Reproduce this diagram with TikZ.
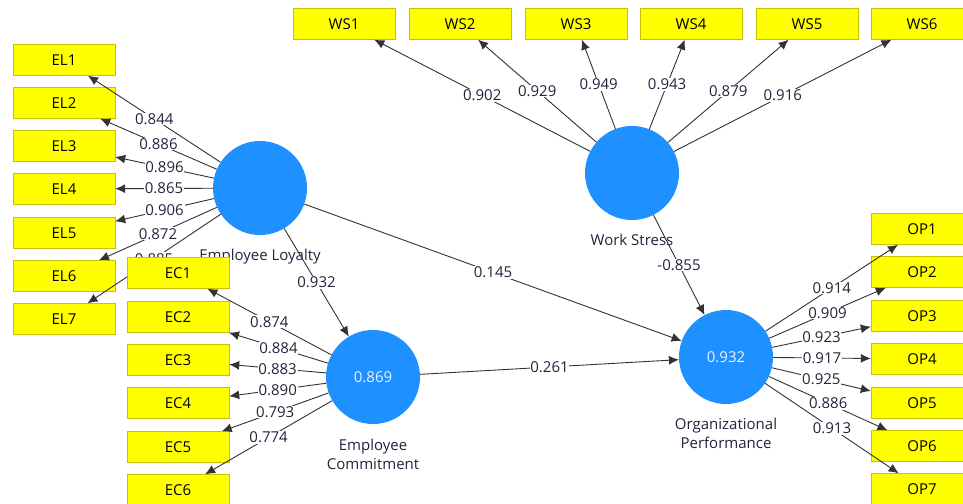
\documentclass[tikz,border=0pt]{standalone}
\usepackage{fontspec}
\setmainfont{Open Sans}
\usetikzlibrary{arrows.meta}
\usepackage{xcolor}
\definecolor{lvblue}{RGB}{30,144,255}
\definecolor{mvyellow}{RGB}{255,255,0}
\definecolor{mvedge}{RGB}{196,196,0}
\definecolor{linkgray}{RGB}{50,50,50}
\definecolor{valtext}{RGB}{35,35,60}

\begin{document}
\begin{tikzpicture}[x=1pt,y=-1pt,
  item/.style={rectangle,draw=mvedge,fill=mvyellow,minimum width=102pt,minimum height=31pt,inner sep=0pt,font=\fontsize{15}{17}\selectfont},
  latent/.style={circle,fill=lvblue,minimum size=94pt,inner sep=0pt,text=blue!6,font=\fontsize{15}{17}\selectfont},
  lvname/.style={align=center,inner sep=0pt,text=valtext,font=\fontsize{15}{18.5}\selectfont},
  link/.style={draw=linkgray,line width=0.9pt,-{Latex[length=10pt,width=9pt]}},
  coef/.style={fill=white,inner sep=0.8pt,text=valtext,font=\fontsize{15}{17}\selectfont}]
\useasboundingbox (0,0) rectangle (963,503);
\clip (0,0) rectangle (963,503);

% employee loyalty
\node [item] (el1) at (64,60) {EL1};
\node [item] (el2) at (64,103) {EL2};
\node [item] (el3) at (64,146) {EL3};
\node [item] (el4) at (64,189) {EL4};
\node [item] (el5) at (64,233) {EL5};
\node [item] (el6) at (64,276) {EL6};
\node [item] (el7) at (64,319) {EL7};
\node [latent] (el) at (260,188) {};
\node [lvname,below=14pt,at=(el.south)] (elname) {Employee Loyalty};

\draw [link] (el) -- node[coef] {0.844} (el1);
\draw [link] (el) -- node[coef] {0.886} (el2);
\draw [link] (el) -- node[coef] {0.896} (el3);
\draw [link] (el) -- node[coef] {0.865} (el4);
\draw [link] (el) -- node[coef] {0.906} (el5);
\draw [link] (el) -- node[coef] {0.872} (el6);
\draw [link] (el) -- node[coef] {0.885} (el7);

% employee commitment
\node [item] (ec1) at (178,273) {EC1};
\node [item] (ec2) at (178,317) {EC2};
\node [item] (ec3) at (178,360) {EC3};
\node [item] (ec4) at (178,403) {EC4};
\node [item] (ec5) at (178,447) {EC5};
\node [item] (ec6) at (178,490) {EC6};
\node [latent] (ec) at (373,377) {0.869};
\node [lvname,below=15pt,at=(ec.south)] (ecname) {Employee\\Commitment};

\draw [link] (ec) -- node[coef] {0.874} (ec1);
\draw [link] (ec) -- node[coef] {0.884} (ec2);
\draw [link] (ec) -- node[coef] {0.883} (ec3);
\draw [link] (ec) -- node[coef] {0.890} (ec4);
\draw [link] (ec) -- node[coef] {0.793} (ec5);
\draw [link] (ec) -- node[coef] {0.774} (ec6);

% work stress
\node [item] (ws1) at (344,24) {WS1};
\node [item] (ws2) at (460,24) {WS2};
\node [item] (ws3) at (576,24) {WS3};
\node [item] (ws4) at (691,24) {WS4};
\node [item] (ws5) at (807,24) {WS5};
\node [item] (ws6) at (922,24) {WS6};
\node [latent] (ws) at (632,173) {};
\node [lvname,below=14pt,at=(ws.south)] (wsname) {Work Stress};

\draw [link] (ws) -- node[coef] {0.902} (ws1);
\draw [link] (ws) -- node[coef] {0.929} (ws2);
\draw [link] (ws) -- node[coef] {0.949} (ws3);
\draw [link] (ws) -- node[coef] {0.943} (ws4);
\draw [link] (ws) -- node[coef] {0.879} (ws5);
\draw [link] (ws) -- node[coef] {0.916} (ws6);

% organizational performance
\node [item] (op1) at (922,229) {OP1};
\node [item] (op2) at (922,272) {OP2};
\node [item] (op3) at (922,316) {OP3};
\node [item] (op4) at (922,359) {OP4};
\node [item] (op5) at (922,403) {OP5};
\node [item] (op6) at (922,446) {OP6};
\node [item] (op7) at (922,489) {OP7};
\node [latent] (op) at (726,357) {0.932};
\node [lvname,below=14pt,at=(op.south)] (opname) {Organizational\\Performance};

\draw [link] (op) -- node[coef] {0.914} (op1);
\draw [link] (op) -- node[coef] {0.909} (op2);
\draw [link] (op) -- node[coef] {0.923} (op3);
\draw [link] (op) -- node[coef] {0.917} (op4);
\draw [link] (op) -- node[coef] {0.925} (op5);
\draw [link] (op) -- node[coef] {0.886} (op6);
\draw [link] (op) -- node[coef] {0.913} (op7);

% inner model
\draw [link] (el) -- node[coef] {0.932} (ec);
\draw [link] (el) -- node[coef] {0.145} (op);
\draw [link] (ec) -- node[coef] {0.261} (op);
\draw [link] (ws) -- node[coef] {-0.855} (op);
\end{tikzpicture}
\end{document}
